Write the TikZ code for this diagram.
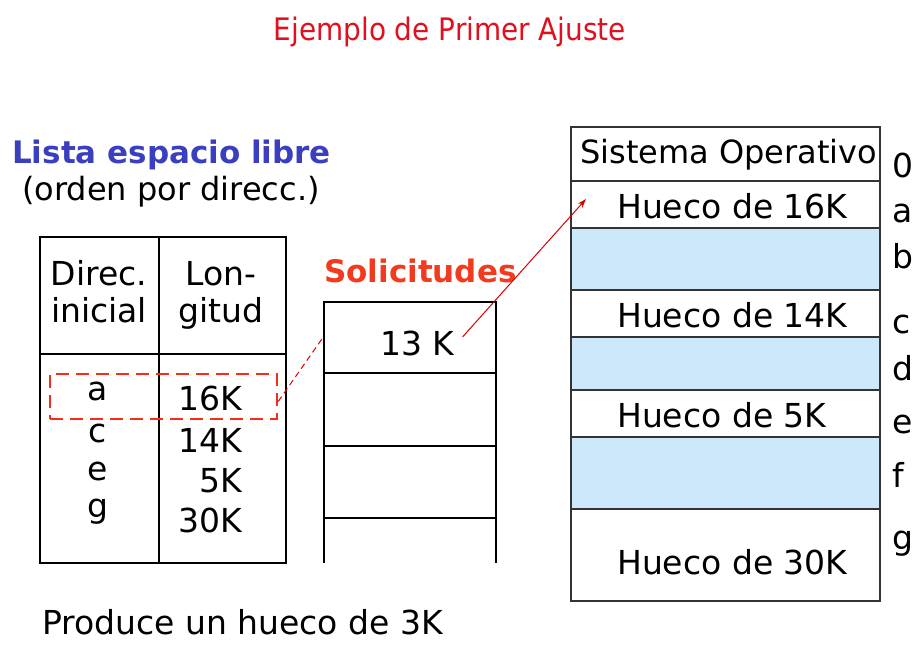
\documentclass[tikz,border=0pt]{standalone}
\usepackage{fontspec}
\setmainfont{DejaVu Sans}
\newfontfamily\titlefam{DejaVu Sans Condensed}
\usetikzlibrary{arrows.meta}
\definecolor{memblue}{HTML}{CCE8FA}
\definecolor{titlered}{HTML}{E0101E}
\definecolor{listblue}{HTML}{3A3FC0}
\definecolor{solred}{HTML}{F23A1E}
\begin{document}
\begin{tikzpicture}[x=1pt,y=-1pt,
  txt/.style={inner sep=0pt,font=\fontsize{33}{38}\selectfont,anchor=base west},
  txtc/.style={txt,anchor=base},
  txte/.style={txt,anchor=base east},
  frame/.style={draw=black,line width=1.3pt},
  memline/.style={draw=black!80,line width=1.3pt},
  selbox/.style={draw=solred!80!red,dashed,line width=2.4pt,dash pattern=on 13pt off 7pt,minimum width=227pt,minimum height=45pt,inner sep=0pt},
  link/.style={draw=red!85!black,line width=1pt},
]
\useasboundingbox (0,0) rectangle (920,659);
% title
\node[txtc,text=titlered,font=\titlefam\fontsize{31}{34}\selectfont] (title) at (450,40) {Ejemplo de Primer Ajuste};
% left side headings
\node[txt,text=listblue,font=\fontsize{31}{36}\selectfont\bfseries] (lista) at (12,163) {Lista espacio libre};
\node[txt,font=\fontsize{32}{36}\selectfont] (orden) at (22,200) {(orden por direcc.)};
% table
\draw[frame] (40,237) rectangle (286,563);
\draw[frame] (159,237) -- (159,563);
\draw[frame] (40,354) -- (286,354);
\node[txtc] (h1a) at (99,285) {Direc.};
\node[txtc] (h1b) at (99,322) {inicial};
\node[txtc] (h2a) at (221,285) {Lon-};
\node[txtc] (h2b) at (221,322) {gitud};
\node[txtc] (la) at (98,400) {a};
\node[txtc] (lc) at (98,442) {c};
\node[txtc] (le) at (98,480) {e};
\node[txtc] (lg) at (98,517) {g};
\node[txte] (n16) at (242,410) {16K};
\node[txte] (n14) at (242,452) {14K};
\node[txte] (n5) at (242,492) {5K};
\node[txte] (n30) at (242,532) {30K};
\node[selbox] (sel) at (163.5,396.5) {};
% solicitudes
\node[txt,text=solred,font=\fontsize{31}{36}\selectfont\bfseries] (sol) at (324,282) {Solicitudes};
\draw[frame] (324,563) -- (324,302) -- (496,302) -- (496,563);
\draw[frame] (324,373) -- (496,373);
\draw[frame] (324,446) -- (496,446);
\draw[frame] (324,518) -- (496,518);
\node[txt] (req) at (380,355) {13 K};
\coordinate (solleft) at (324,336);
\draw[link,dashed,dash pattern=on 6pt off 4pt] ([yshift=-5pt]sel.east) -- (solleft);
% memory
\fill[memblue] (571,228) rectangle (880,290);
\fill[memblue] (571,337) rectangle (880,390);
\fill[memblue] (571,437) rectangle (880,509);
\draw[memline] (571,127) rectangle (880,601);
\foreach \yy in {181,228,290,337,390,437,509} \draw[memline] (571,\yy) -- (880,\yy);
\node[txt,font=\fontsize{32}{36}\selectfont] (so) at (580,163) {Sistema Operativo};
\node[txt] (m16) at (617,218) {Hueco de 16K};
\node[txt] (m14) at (617,327) {Hueco de 14K};
\node[txt] (m5) at (617,427) {Hueco de 5K};
\node[txt] (m30) at (617,574) {Hueco de 30K};
\node[txt] (a0) at (892,177) {0};
\node[txt] (aa) at (892,222) {a};
\node[txt] (ab) at (892,268) {b};
\node[txt] (ac) at (892,333) {c};
\node[txt] (ad) at (892,380) {d};
\node[txt] (ae) at (892,433) {e};
\node[txt] (af) at (892,487) {f};
\node[txt] (ag) at (892,549) {g};
\coordinate (tip) at (586,199);
\draw[link,-{Stealth[length=9pt,width=6pt]}] ([xshift=8pt,yshift=6pt]req.east) -- (tip);
% footer
\node[txt] (prod) at (42,634) {Produce un hueco de 3K};
\end{tikzpicture}
\end{document}
